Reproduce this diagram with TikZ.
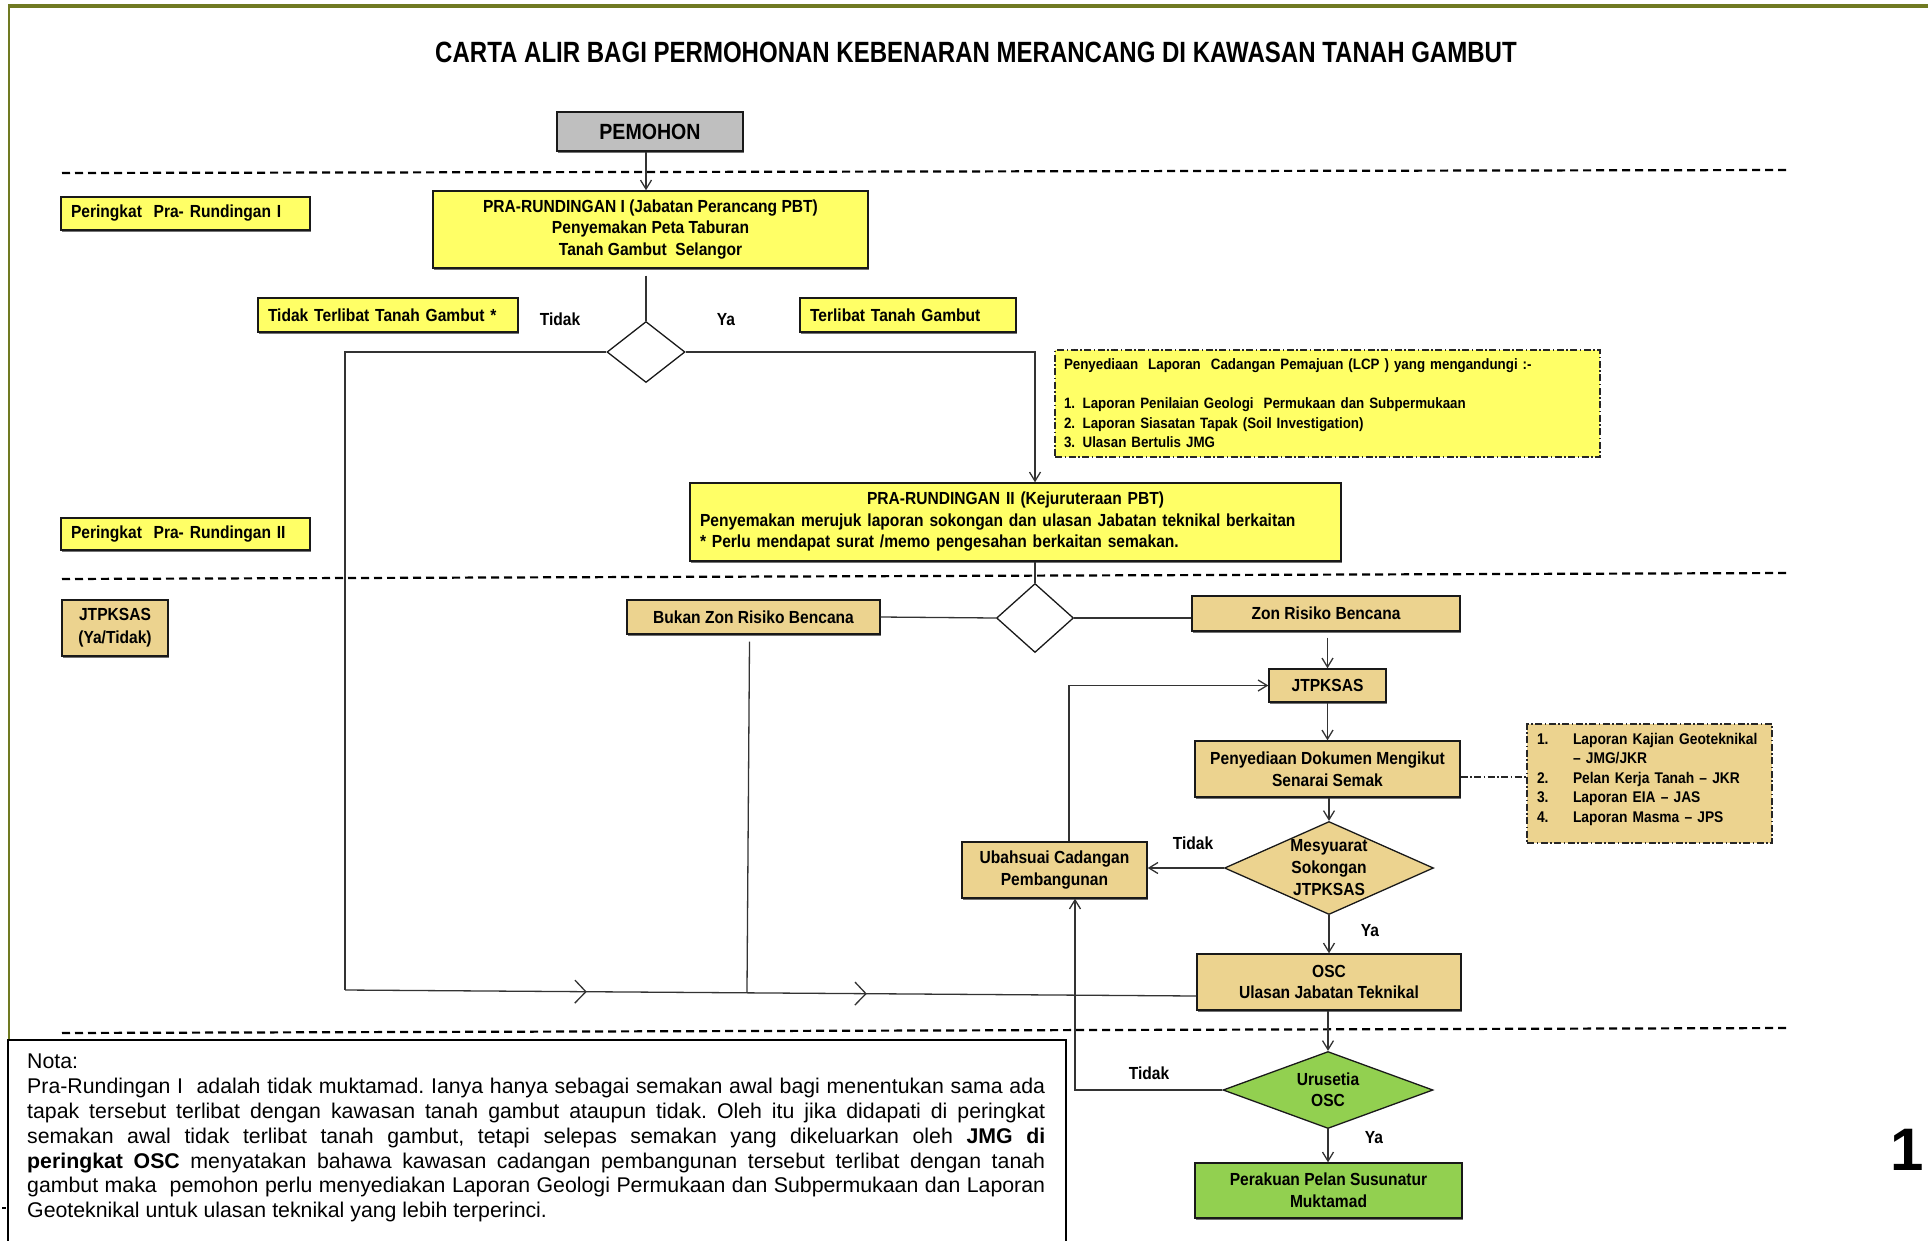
\documentclass[tikz,border=0pt]{standalone}
\usepackage{fontspec}
\setmainfont{Liberation Sans}[FakeStretch=0.82]
\newfontfamily\boxfont{Liberation Sans}[FakeStretch=0.89]
\newfontfamily\notafont{Liberation Sans}
\usetikzlibrary{arrows.meta,shapes.geometric,decorations.markings,calc,shadows}
\definecolor{myyellow}{RGB}{255,255,102}
\definecolor{mytan}{RGB}{236,211,143}
\definecolor{mygreen}{RGB}{146,208,80}
\definecolor{mygray}{RGB}{191,191,191}
\definecolor{frameolive}{RGB}{112,122,34}
\tikzset{
  box/.style={draw=black!90, line width=1.4pt, inner sep=0pt, font=\boxfont\bfseries\fontsize{17.5}{21.5}\selectfont, align=center},
  shad/.style={drop shadow={shadow xshift=1.2pt, shadow yshift=-1.8pt, fill=black!55, opacity=1}},
  ybox/.style={box, shad, fill=myyellow},
  tbox/.style={box, shad, fill=mytan},
  gbox/.style={box, shad, fill=mygreen},
  lbox/.style={align=left, inner xsep=10pt},
  dia/.style={diamond, draw=black!90, line width=1.3pt, inner sep=0pt},
  dlabel/.style={font=\boxfont\bfseries\fontsize{17.5}{22}\selectfont, align=center},
  conn/.style={line width=1.3pt, draw=black!80},
  arr/.style={conn, -{Straight Barb[length=9pt,width=11pt]}},
  chev/.style={conn, postaction={decorate}, decoration={markings,
      mark=at position 0.284 with {\arrow{Straight Barb[length=11pt,width=23pt]}},
      mark=at position 0.613 with {\arrow{Straight Barb[length=11pt,width=23pt]}}}},
  lbl/.style={font=\boxfont\bfseries\fontsize{17.5}{20}\selectfont, inner sep=0pt},
  sepline/.style={line width=2.2pt, dash pattern=on 8pt off 5pt},
  dd/.style={dash pattern=on 7pt off 2.5pt on 1.5pt off 2.5pt, line width=1.4pt, draw=black!85},
}
\begin{document}
\begin{tikzpicture}[x=1pt,y=-1pt]
\useasboundingbox (0,0) rectangle (1928,1240);
% frame
\draw[frameolive, line width=3.5pt] (8,6) -- (1928,6);
\draw[frameolive, line width=2pt] (9,6) -- (9,1039);
\draw[black, line width=2pt] (2,1208) -- (6,1208);

% title
\node[font=\bfseries\fontsize{29.3}{34}\selectfont] (title) at (976,52)
  {CARTA ALIR BAGI PERMOHONAN KEBENARAN MERANCANG DI KAWASAN TANAH GAMBUT};

% separators
\draw[sepline] (62,173) -- (1790,170);
\draw[sepline] (62,579) -- (1790,573);
\draw[sepline] (62,1033) -- (1790,1028);

% nodes
\node[box, shad, fill=mygray, minimum width=186pt, minimum height=39pt, font=\boxfont\bfseries\fontsize{22}{24}\selectfont] (pemohon) at (650,131.5) {PEMOHON};
\node[ybox, lbox, text width=229pt, minimum height=33pt] (per1) at (185.5,213.5) {Peringkat\ \ Pra- Rundingan I};
\node[ybox, minimum width=435pt, minimum height=77pt] (pr1) at (650.5,229.5) {PRA-RUNDINGAN I (Jabatan Perancang PBT)\\Penyemakan Peta Taburan\\Tanah Gambut\ \ Selangor};
\node[dia, minimum width=78pt, minimum height=61pt] (d1) at (646,352) {};
\node[ybox, lbox, text width=240pt, minimum height=34pt] (tidakt) at (388,315) {Tidak Terlibat Tanah Gambut *};
\node[ybox, lbox, text width=196pt, minimum height=34pt] (terlibat) at (908,315) {Terlibat Tanah Gambut};
\node[lbl] (ltidak1) at (560,319) {Tidak};
\node[lbl] (lya1) at (726,320) {Ya};
\node[box, fill=myyellow, dd, align=left, inner xsep=9pt, text width=527pt, minimum height=107pt, font=\boxfont\bfseries\fontsize{15}{19.5}\selectfont] (lcp) at (1327.5,403.5)
  {Penyediaan\ \ Laporan\ \ Cadangan Pemajuan (LCP ) yang mengandungi :-\\[19.5pt]
   1. Laporan Penilaian Geologi\ \ Permukaan dan Subpermukaan\\
   2. Laporan Siasatan Tapak (Soil Investigation)\\
   3. Ulasan Bertulis JMG};
\node[ybox, lbox, text width=631pt, minimum height=78pt] (pr2) at (1015.5,522)
  {\makebox[631pt]{PRA-RUNDINGAN II (Kejuruteraan PBT)}\\
   Penyemakan merujuk laporan sokongan dan ulasan Jabatan teknikal berkaitan\\{}%
   * Perlu mendapat surat /memo\ pengesahan berkaitan semakan.};
\node[ybox, lbox, text width=229pt, minimum height=32pt] (per2) at (185.5,534) {Peringkat\ \ Pra- Rundingan II};
\node[tbox, minimum width=106pt, minimum height=56pt, font=\boxfont\bfseries\fontsize{17.5}{23}\selectfont] (jtp1) at (115,628) {JTPKSAS\\(Ya/Tidak)};
\node[dia, minimum width=77pt, minimum height=69pt] (d2) at (1035,618) {};
\node[tbox, minimum width=253pt, minimum height=34pt] (bukan) at (753.5,617) {Bukan Zon Risiko Bencana};
\node[tbox, minimum width=268pt, minimum height=35pt] (zon) at (1326,613.5) {Zon Risiko Bencana};
\node[tbox, minimum width=117pt, minimum height=33pt] (jtp2) at (1327.5,685.5) {JTPKSAS};
\node[tbox, minimum width=265pt, minimum height=56pt, font=\boxfont\bfseries\fontsize{17.5}{22}\selectfont] (penyediaan) at (1327.5,769) {Penyediaan Dokumen Mengikut\\Senarai Semak};
\node[box, fill=mytan, dd, align=left, inner xsep=10pt, text width=225pt, minimum height=119pt, font=\boxfont\bfseries\fontsize{15.5}{19.5}\selectfont] (senarai) at (1649.5,783.5)
  {\begin{tabular}{@{}p{36pt}@{}l@{}}
   1. & Laporan Kajian Geoteknikal\\
      & \textendash{} JMG/JKR\\
   2. & Pelan Kerja Tanah \textendash{} JKR\\
   3. & Laporan EIA \textendash{} JAS\\
   4. & Laporan Masma \textendash{} JPS\\[-11.5pt]
      &
   \end{tabular}};
\node[dia, fill=mytan, minimum width=209pt, minimum height=93pt,
  label={[dlabel]center:Mesyuarat\\Sokongan\\JTPKSAS}] (d3) at (1329,868) {};
\node[tbox, minimum width=185pt, minimum height=56pt, font=\boxfont\bfseries\fontsize{17.5}{22}\selectfont] (ubah) at (1054.5,870) {Ubahsuai Cadangan\\Pembangunan};
\node[lbl] (ltidak2) at (1193,843) {Tidak};
\node[lbl] (lya2) at (1370,931) {Ya};
\node[tbox, minimum width=264pt, minimum height=56pt, font=\boxfont\bfseries\fontsize{17.5}{21.7}\selectfont] (osc) at (1329,982) {OSC\\Ulasan Jabatan Teknikal};
\node[dia, fill=mygreen, minimum width=210pt, minimum height=77pt,
  label={[dlabel, font=\boxfont\bfseries\fontsize{17.5}{21}\selectfont]center:Urusetia\\OSC}] (d4) at (1328,1090) {};
\node[lbl] (ltidak3) at (1149,1073) {Tidak};
\node[lbl] (lya3) at (1374,1138) {Ya};
\node[gbox, minimum width=267pt, minimum height=55pt, font=\boxfont\bfseries\fontsize{17.5}{22}\selectfont] (perakuan) at (1328.5,1190.5) {Perakuan Pelan Susunatur\\Muktamad};

% nota
\node[draw=black, line width=2pt, fill=white, anchor=north west, minimum width=1058pt, minimum height=230pt, inner sep=0pt] (notabox) at (7,1039) {};
\node[anchor=north west, text width=1018pt, inner sep=0pt, align=justify, font=\notafont\fontsize{21.3}{24.8}\selectfont\frenchspacing] (notatext) at (27,1054)
 {Nota:\\
 Pra-Rundingan I\ \ adalah tidak muktamad. Ianya hanya sebagai semakan awal bagi menentukan sama ada\linebreak
 tapak tersebut terlibat dengan kawasan tanah gambut ataupun tidak. Oleh itu jika didapati di peringkat\linebreak
 semakan awal tidak terlibat tanah gambut, tetapi selepas semakan yang dikeluarkan oleh \textbf{JMG di}\linebreak
 \textbf{peringkat OSC} menyatakan bahawa kawasan cadangan pembangunan tersebut terlibat dengan tanah\linebreak
 gambut maka\ \ pemohon perlu menyediakan Laporan Geologi Permukaan dan Subpermukaan dan Laporan\linebreak
 Geoteknikal untuk ulasan teknikal yang lebih terperinci.};

\node[font=\notafont\bfseries\fontsize{60}{60}\selectfont, inner sep=0pt] (pagenum) at (1907,1150) {1};

% connectors
\draw[arr] (pemohon.south -| d1) -- (pr1.north -| d1);
\draw[conn, shorten <=7pt] (pr1.south -| d1) -- (d1.north);
\coordinate (cL) at (345,990);
\coordinate (cR) at ([yshift=-14pt]osc.west);
\coordinate (cB) at ([xshift=-4pt,yshift=-7pt]bukan.south);
\draw[conn] (d1.west) -| (cL);
\draw[chev] (cL) -- (cR);
\draw[conn] (cB) -- ($(cL)!(cB)!(cR)$);
\draw[arr] (d1.east) -| (pr2.north -| d2.north);
\draw[conn] (pr2.south -| d2.north) -- (d2.north);
\draw[conn] (bukan.east) -- (d2.west);
\draw[conn] (d2.east) -- (d2.east -| zon.west);
\draw[arr, shorten <=6pt] (zon.south -| jtp2.north) -- (jtp2.north);
\draw[arr] (jtp2.south) -- (penyediaan.north);
\draw[dd, line width=1.2pt] ([yshift=-8pt]penyediaan.east) -- ([yshift=-8pt]penyediaan.east -| senarai.west);
\draw[arr] (penyediaan.south -| d3.north) -- (d3.north);
\draw[arr] (d3.west) -- (d3.west -| ubah.east);
\draw[arr] ([xshift=14.5pt]ubah.north) |- (jtp2.west);
\draw[arr] (d3.south) -- (osc.north -| d3.south);
\draw[arr] (osc.south -| d4.north) -- (d4.north);
\draw[arr] (d4.west) -| ([xshift=20.5pt]ubah.south);
\draw[arr] (d4.south) -- (perakuan.north -| d4.south);
\end{tikzpicture}
\end{document}
